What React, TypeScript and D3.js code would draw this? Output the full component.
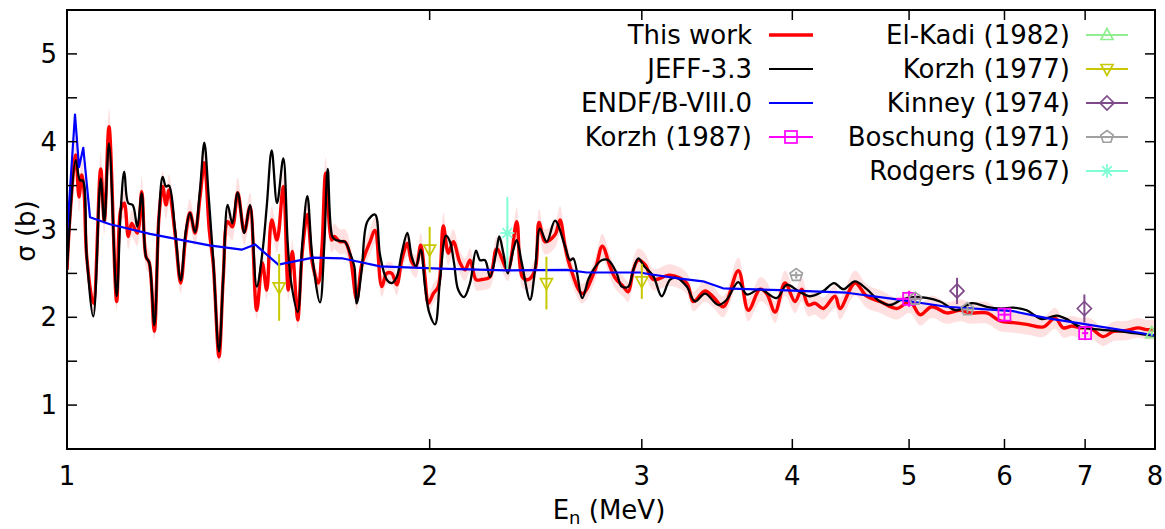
import React from 'react';
import * as d3 from 'd3';

// ---------- data ----------
const thisE = [1.0, 1.0057, 1.0168, 1.0232, 1.0285, 1.033, 1.0384, 1.0516, 1.0665, 1.0739, 1.0836, 1.0996, 1.1081, 1.1157, 1.1243, 1.1316, 1.1438, 1.1535, 1.163, 1.1703, 1.1816, 1.1922, 1.2007, 1.2083, 1.2152, 1.2293, 1.2427, 1.2554, 1.265, 1.2772, 1.2894, 1.3001, 1.3126, 1.3226, 1.3371, 1.3481, 1.3595, 1.3715, 1.3857, 1.4034, 1.4187, 1.437, 1.4525, 1.4648, 1.4788, 1.4939, 1.512, 1.5265, 1.5382, 1.5461, 1.5542, 1.5679, 1.583, 1.5982, 1.6166, 1.6281, 1.6396, 1.6586, 1.6669, 1.6851, 1.7013, 1.7176, 1.7398, 1.7565, 1.7846, 1.8017, 1.8249, 1.8424, 1.8601, 1.878, 1.896, 1.9164, 1.9326, 1.9485, 1.9661, 1.9823, 1.9949, 2.014, 2.0334, 2.0529, 2.0726, 2.0925, 2.1195, 2.1398, 2.1604, 2.1853, 2.2092, 2.2446, 2.2735, 2.3218, 2.3621, 2.3875, 2.415, 2.4462, 2.4649, 2.4933, 2.5414, 2.5658, 2.5904, 2.6153, 2.6775, 2.7434, 2.7819, 2.8231, 2.8503, 2.8958, 2.9236, 2.9517, 2.98, 3.0185, 3.0667, 3.1662, 3.2689, 3.3104, 3.3853, 3.4394, 3.5058, 3.6077, 3.6773, 3.7605, 3.8089, 3.8698, 3.9445, 4.0205, 4.0724, 4.124, 4.1771, 4.2441, 4.3399, 4.3816, 4.5092, 4.6111, 4.7298, 4.8832, 5.0089, 5.1056, 5.2214, 5.3727, 5.5117, 5.6176, 5.8, 5.9493, 6.1025, 6.2608, 6.4627, 6.6088, 6.7145, 6.8231, 6.9322, 7.066, 7.2478, 7.3877, 7.5794, 7.7494, 7.8747, 8.0];
const thisS = [2.54, 3.15, 3.85, 3.37, 3.62, 3.45, 2.69, 2.16, 3.69, 3.09, 4.17, 2.18, 3.22, 3.3, 2.92, 3.07, 2.96, 3.43, 2.69, 2.62, 1.84, 3.15, 3.49, 3.28, 3.45, 2.96, 2.39, 2.96, 3.19, 2.96, 3.37, 3.76, 2.99, 2.6, 1.55, 2.46, 3.09, 3.03, 3.42, 2.97, 3.26, 2.08, 2.62, 2.31, 3.11, 2.88, 3.49, 2.31, 2.75, 2.39, 1.97, 2.75, 3.17, 2.62, 2.39, 2.8, 3.64, 2.88, 2.92, 2.86, 2.86, 2.71, 2.2, 2.6, 2.86, 2.99, 2.35, 2.5, 2.5, 2.37, 2.65, 2.84, 2.63, 2.58, 2.82, 2.45, 2.16, 2.27, 2.35, 3.04, 2.73, 2.86, 2.62, 2.54, 2.65, 2.43, 2.43, 2.46, 2.78, 2.54, 3.09, 2.46, 2.43, 2.54, 3.08, 2.86, 2.94, 3.11, 2.81, 2.58, 2.27, 2.54, 2.81, 2.58, 2.45, 2.35, 2.29, 2.54, 2.65, 2.6, 2.43, 2.48, 2.39, 2.18, 2.3, 2.23, 2.12, 2.53, 2.08, 2.32, 2.27, 2.06, 2.39, 2.18, 2.32, 2.14, 2.16, 2.1, 2.24, 2.1, 2.39, 2.24, 2.18, 2.1, 2.18, 2.03, 2.12, 2.05, 2.08, 2.05, 2.05, 1.96, 1.94, 1.92, 1.89, 1.99, 1.88, 1.9, 1.88, 1.88, 1.78, 1.84, 1.85, 1.88, 1.86, 1.86];
// relative uncertainty of "This work" (band), by energy
const uncE = [1.0, 3.3, 3.6, 8.0];
const uncRel = [0.05, 0.05, 0.06, 0.06];

const jeffE = [1.0, 1.0168, 1.0252, 1.0305, 1.0384, 1.0516, 1.0665, 1.0739, 1.0836, 1.0996, 1.1081, 1.1157, 1.1243, 1.1338, 1.1438, 1.1535, 1.163, 1.1703, 1.1816, 1.1922, 1.2007, 1.2083, 1.2152, 1.2293, 1.2427, 1.2554, 1.265, 1.2772, 1.2894, 1.3001, 1.3106, 1.3226, 1.3371, 1.3481, 1.3595, 1.3715, 1.3857, 1.4034, 1.4187, 1.437, 1.4525, 1.4648, 1.4788, 1.4939, 1.512, 1.5248, 1.5344, 1.5542, 1.5679, 1.583, 1.5982, 1.6219, 1.6353, 1.6459, 1.6605, 1.6713, 1.6851, 1.7013, 1.7176, 1.7318, 1.7398, 1.7565, 1.7754, 1.8017, 1.819, 1.8424, 1.8601, 1.878, 1.896, 1.9164, 1.9326, 1.9485, 1.9661, 1.9823, 1.9987, 2.0206, 2.04, 2.0635, 2.0793, 2.0953, 2.1126, 2.1357, 2.1604, 2.1853, 2.2021, 2.2232, 2.2446, 2.2705, 2.2848, 2.3024, 2.3218, 2.3468, 2.3621, 2.3848, 2.4229, 2.4462, 2.4695, 2.5014, 2.5414, 2.5904, 2.6153, 2.6319, 2.6775, 2.7084, 2.7397, 2.7787, 2.814, 2.8595, 2.887, 2.9236, 2.9517, 2.98, 3.0144, 3.0667, 3.1164, 3.1662, 3.207, 3.2689, 3.3212, 3.3853, 3.4724, 3.5286, 3.6077, 3.6661, 3.7605, 3.8824, 3.9573, 4.046, 4.1375, 4.2441, 4.3317, 4.4094, 4.5092, 4.6111, 4.7298, 4.8211, 4.9301, 5.0406, 5.1714, 5.3045, 5.4766, 5.6359, 5.8, 5.9493, 6.1025, 6.2608, 6.4429, 6.6303, 6.7789, 6.9322, 7.2023, 7.4829, 7.8747, 8.0];
const jeffS = [2.54, 3.79, 3.56, 3.56, 2.69, 2.01, 3.58, 3.09, 3.98, 2.24, 3.22, 3.66, 3.3, 3.28, 3.03, 3.41, 2.69, 2.62, 1.91, 3.15, 3.6, 3.49, 3.5, 3.0, 2.42, 3.0, 3.19, 2.97, 3.45, 3.99, 3.4, 2.65, 1.61, 2.46, 3.28, 3.07, 3.42, 2.96, 3.28, 2.35, 2.73, 3.26, 3.9, 3.3, 3.81, 2.84, 2.41, 2.06, 2.84, 3.38, 2.69, 2.17, 2.84, 3.69, 2.92, 2.88, 2.87, 2.86, 2.73, 2.58, 2.16, 2.54, 3.09, 3.17, 2.71, 2.43, 2.39, 2.46, 2.73, 2.96, 2.69, 2.58, 2.77, 2.35, 2.05, 1.92, 2.43, 2.93, 2.86, 2.62, 2.31, 2.23, 2.39, 2.76, 2.65, 2.65, 2.46, 2.73, 2.92, 2.73, 2.5, 2.77, 2.88, 2.62, 2.2, 2.54, 3.01, 2.86, 3.1, 2.81, 2.65, 2.67, 2.22, 2.43, 2.56, 2.65, 2.65, 2.5, 2.35, 2.35, 2.54, 2.67, 2.58, 2.47, 2.24, 2.43, 2.45, 2.35, 2.18, 2.27, 2.14, 2.2, 2.4, 2.26, 2.32, 2.22, 2.37, 2.3, 2.24, 2.3, 2.39, 2.32, 2.41, 2.32, 2.18, 2.14, 2.2, 2.23, 2.22, 2.18, 2.08, 2.16, 2.12, 2.1, 2.11, 2.08, 1.98, 2.02, 1.97, 1.89, 1.86, 1.84, 1.8, 1.79];

const endfE = [1.0, 1.0154, 1.0232, 1.0316, 1.0449, 1.0856, 1.1718, 1.3126, 1.3964, 1.4324, 1.4976, 1.6003, 1.6948, 1.7506, 1.819, 2.04, 2.3174, 2.5988, 2.7001, 2.9897, 3.0474, 3.2272, 3.3723, 3.5038, 3.9067, 4.4384, 4.8494, 5.3727, 6.099, 6.5048, 6.9322, 7.8747, 8.0];
const endfS = [2.94, 4.31, 3.71, 3.93, 3.14, 3.06, 2.95, 2.82, 2.77, 2.83, 2.6, 2.68, 2.67, 2.63, 2.58, 2.555, 2.535, 2.54, 2.51, 2.51, 2.49, 2.44, 2.41, 2.33, 2.31, 2.28, 2.21, 2.12, 2.07, 1.99, 1.93, 1.81, 1.79];

// experimental data sets
const korzh87E = [5.0, 6.0, 7.0];
const korzh87S = [2.21, 2.03, 1.82];
const korzh87dS = [0.09, 0.08, 0.08];
const korzh87dE = [0.12, 0.06, 0.04];

const elkadiE = [7.95];
const elkadiS = [1.82];
const elkadidS = [0.03];

const korzh77E = [1.5, 2.0, 2.5, 3.0];
const korzh77S = [2.34, 2.77, 2.39, 2.41];
const korzh77dS = [0.38, 0.26, 0.3, 0.2];

const kinneyE = [5.48, 6.99];
const kinneyS = [2.3, 2.1];
const kinneydS = [0.15, 0.16];

const boschungE = [4.03, 5.06, 5.59];
const boschungS = [2.48, 2.21, 2.09];
const boschungdS = [0.04, 0.04, 0.04];
const boschungdE = [0.04, 0.05, 0.05];

const rodgersE = [2.32];
const rodgersS = [2.96];
const rodgersdS = [0.41];

const xTicks = [1, 2, 3, 4, 5, 6, 7, 8];
const yTicks = [1, 1.5, 2, 2.5, 3, 3.5, 4, 4.5, 5];
const yLabels = [1, 2, 3, 4, 5];

// ---------- layout ----------
const W = 1165;
const H = 529;
const L = 67, R = 1155, T = 10, B = 449;
const FONT = 'DejaVu Sans';
const FS = 26;

type MarkerType = 'square' | 'triUp' | 'triDown' | 'diamond' | 'pentagon' | 'asterisk';

function Marker({ type, cx, cy, color }: { type: MarkerType; cx: number; cy: number; color: string }) {
  const sw = 1.7;
  if (type === 'square') {
    return <rect x={cx - 6} y={cy - 6} width={12} height={12} fill="none" stroke={color} strokeWidth={sw} />;
  }
  if (type === 'triUp') {
    return <polygon points={`${cx},${cy - 6.5} ${cx - 6},${cy + 4.5} ${cx + 6},${cy + 4.5}`} fill="none" stroke={color} strokeWidth={sw} />;
  }
  if (type === 'triDown') {
    return <polygon points={`${cx},${cy + 6.5} ${cx - 6},${cy - 4.5} ${cx + 6},${cy - 4.5}`} fill="none" stroke={color} strokeWidth={sw} />;
  }
  if (type === 'diamond') {
    return <polygon points={`${cx},${cy - 7} ${cx + 7},${cy} ${cx},${cy + 7} ${cx - 7},${cy}`} fill="none" stroke={color} strokeWidth={sw} />;
  }
  if (type === 'pentagon') {
    const pts = d3.range(5).map((i) => {
      const a = -Math.PI / 2 + (i * 2 * Math.PI) / 5;
      return `${cx + 6.5 * Math.cos(a)},${cy + 6.5 * Math.sin(a)}`;
    });
    return <polygon points={pts.join(' ')} fill="none" stroke={color} strokeWidth={sw} />;
  }
  // asterisk
  const r = 7;
  return (
    <g stroke={color} strokeWidth={sw}>
      <line x1={cx - r} y1={cy} x2={cx + r} y2={cy} />
      <line x1={cx} y1={cy - r} x2={cx} y2={cy + r} />
      <line x1={cx - r * 0.7} y1={cy - r * 0.7} x2={cx + r * 0.7} y2={cy + r * 0.7} />
      <line x1={cx - r * 0.7} y1={cy + r * 0.7} x2={cx + r * 0.7} y2={cy - r * 0.7} />
    </g>
  );
}

interface ExpSet {
  label: string;
  color: string;
  marker: MarkerType;
  e: number[];
  s: number[];
  ds: number[];
  de?: number[];
}

const expSets: ExpSet[] = [
  { label: 'Korzh (1987)', color: '#ff00ff', marker: 'square', e: korzh87E, s: korzh87S, ds: korzh87dS, de: korzh87dE },
  { label: 'El-Kadi (1982)', color: '#90ee90', marker: 'triUp', e: elkadiE, s: elkadiS, ds: elkadidS },
  { label: 'Korzh (1977)', color: '#c8c800', marker: 'triDown', e: korzh77E, s: korzh77S, ds: korzh77dS },
  { label: 'Kinney (1974)', color: '#7f4a8a', marker: 'diamond', e: kinneyE, s: kinneyS, ds: kinneydS },
  { label: 'Boschung (1971)', color: '#a0a0a0', marker: 'pentagon', e: boschungE, s: boschungS, ds: boschungdS, de: boschungdE },
  { label: 'Rodgers (1967)', color: '#7fffd4', marker: 'asterisk', e: rodgersE, s: rodgersS, ds: rodgersdS },
];

export default function App() {
  const x = d3.scaleLog().domain([1, 8]).range([L, R]);
  const y = d3.scaleLinear().domain([0.5, 5.5]).range([B, T]);

  const relAt = d3.scaleLinear().domain(uncE).range(uncRel).clamp(true);

  const thisPts = thisE.map((e, i) => ({ e, s: thisS[i] }));
  const jeffPts = jeffE.map((e, i) => ({ e, s: jeffS[i] }));
  const endfPts = endfE.map((e, i) => ({ e, s: endfS[i] }));

  const smooth = d3.curveCatmullRom.alpha(0.5);
  const lineSmooth = d3
    .line<{ e: number; s: number }>()
    .x((d) => x(d.e))
    .y((d) => y(d.s))
    .curve(smooth);
  const lineLin = d3
    .line<{ e: number; s: number }>()
    .x((d) => x(d.e))
    .y((d) => y(d.s));
  const band = d3
    .area<{ e: number; s: number }>()
    .x((d) => x(d.e))
    .y0((d) => y(d.s * (1 - relAt(d.e))))
    .y1((d) => y(d.s * (1 + relAt(d.e))))
    .curve(smooth);

  const leftLegend = [
    { label: 'This work', color: '#ff0000', width: 3.4 },
    { label: 'JEFF-3.3', color: '#000000', width: 2.2 },
    { label: 'ENDF/B-VIII.0', color: '#0000ff', width: 2.2 },
  ];
  const rowY = (i: number) => 35 + i * 34;

  return (
    <svg
      width={W}
      height={H}
      style={{ position: 'absolute', left: 0, top: 0, background: '#fff' }}
      fontFamily={FONT}
      fontSize={FS}
    >
      <defs>
        <clipPath id="plotClip">
          <rect x={L} y={T} width={R - L} height={B - T} />
        </clipPath>
      </defs>
      <rect x={0} y={0} width={W} height={H} fill="#fff" />

      <g clipPath="url(#plotClip)">
        <path d={band(thisPts) || ''} fill="#ff0000" fillOpacity={0.12} stroke="none" />
        <path d={lineSmooth(thisPts) || ''} fill="none" stroke="#ff0000" strokeWidth={3.4} strokeLinejoin="round" />
        <path d={lineSmooth(jeffPts) || ''} fill="none" stroke="#000000" strokeWidth={2.3} strokeLinejoin="round" />
        <path d={lineLin(endfPts) || ''} fill="none" stroke="#0000ff" strokeWidth={2.2} strokeLinejoin="round" />

        {expSets.map((set) =>
          set.e.map((e, i) => {
            const cx = x(e);
            const cy = y(set.s[i]);
            const de = set.de ? set.de[i] : 0;
            return (
              <g key={set.label + i}>
                <line x1={cx} x2={cx} y1={y(set.s[i] - set.ds[i])} y2={y(set.s[i] + set.ds[i])} stroke={set.color} strokeWidth={2} />
                {de > 0 && <line x1={x(e - de)} x2={x(e + de)} y1={cy} y2={cy} stroke={set.color} strokeWidth={2} />}
                <Marker type={set.marker} cx={cx} cy={cy} color={set.color} />
              </g>
            );
          })
        )}
      </g>

      {/* ticks */}
      <g stroke="#000" strokeWidth={1.5}>
        {xTicks.slice(1, -1).map((t) => (
          <g key={'xt' + t}>
            <line x1={x(t)} x2={x(t)} y1={B} y2={B - 10} />
            <line x1={x(t)} x2={x(t)} y1={T} y2={T + 10} />
          </g>
        ))}
        {yTicks.map((t) => (
          <g key={'yt' + t}>
            <line x1={L} x2={L + 10} y1={y(t)} y2={y(t)} />
            <line x1={R} x2={R - 10} y1={y(t)} y2={y(t)} />
          </g>
        ))}
      </g>
      <rect x={L} y={T} width={R - L} height={B - T} fill="none" stroke="#000" strokeWidth={2} />

      {/* tick labels */}
      {xTicks.map((t) => (
        <text key={'xl' + t} x={x(t)} y={476} textAnchor="middle" dominantBaseline="central">
          {t}
        </text>
      ))}
      {yLabels.map((t) => (
        <text key={'yl' + t} x={L - 10} y={y(t)} textAnchor="end" dominantBaseline="central">
          {t}
        </text>
      ))}

      {/* axis titles */}
      <text x={609} y={519} textAnchor="middle">
        E<tspan dy={5} fontSize={18}>n</tspan>
        <tspan dy={-5}> (MeV)</tspan>
      </text>
      <text transform="translate(26,231) rotate(-90)" textAnchor="middle" dominantBaseline="central">
        σ (b)
      </text>

      {/* legend - left column */}
      {leftLegend.map((it, i) => (
        <g key={it.label}>
          <text x={752} y={rowY(i)} textAnchor="end" dominantBaseline="central">
            {it.label}
          </text>
          <line x1={769} x2={813} y1={rowY(i)} y2={rowY(i)} stroke={it.color} strokeWidth={it.width} />
        </g>
      ))}
      {expSets.map((set, k) => {
        const left = k === 0;
        const row = left ? 3 : k - 1;
        const tx = left ? 752 : 1070;
        const lx1 = left ? 769 : 1086;
        const lx2 = left ? 813 : 1128;
        const yy = rowY(row);
        return (
          <g key={'leg' + set.label}>
            <text x={tx} y={yy} textAnchor="end" dominantBaseline="central">
              {set.label}
            </text>
            <line x1={lx1} x2={lx2} y1={yy} y2={yy} stroke={set.color} strokeWidth={2} />
            <Marker type={set.marker} cx={(lx1 + lx2) / 2} cy={yy} color={set.color} />
          </g>
        );
      })}
    </svg>
  );
}
